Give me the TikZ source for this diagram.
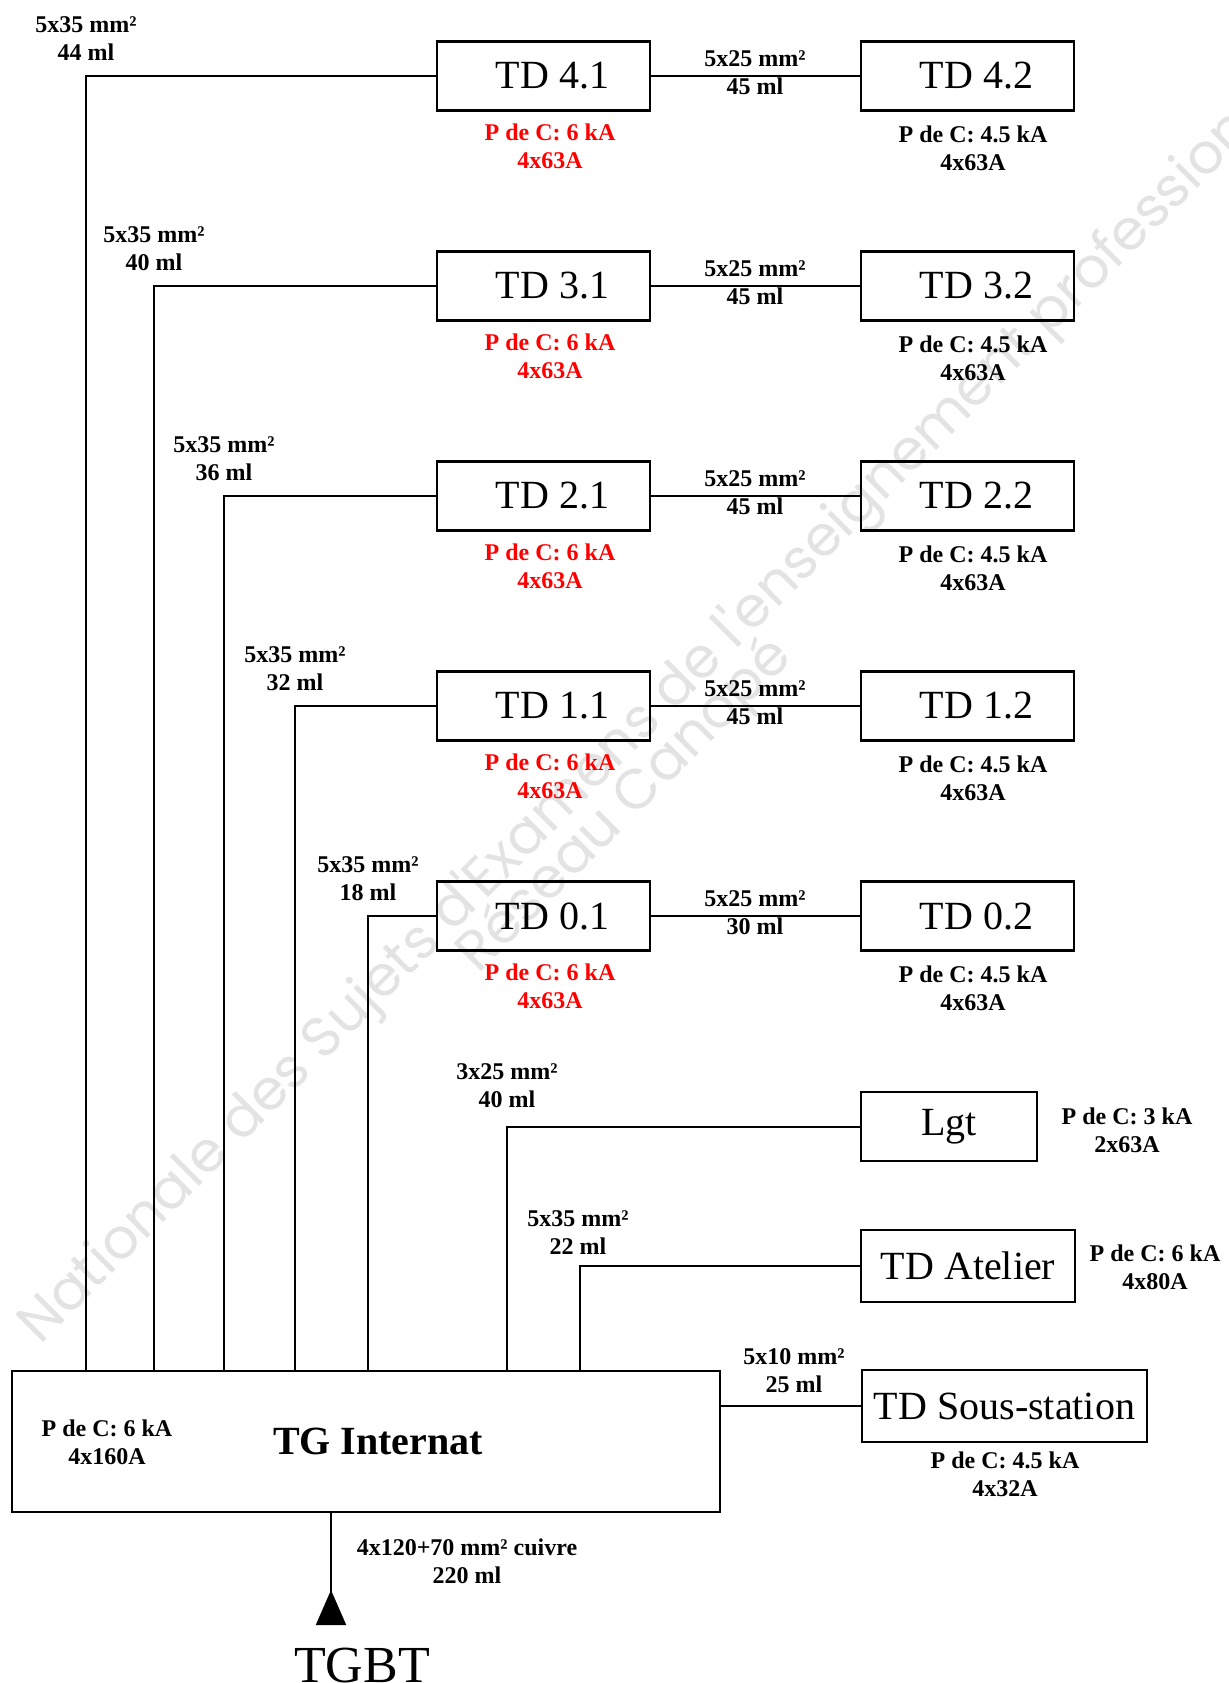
\documentclass[tikz,border=0pt]{standalone}
\usepackage{fontspec}
\setmainfont{Liberation Serif}
\newfontfamily\wmfont{Poppins}
\usetikzlibrary{arrows.meta}

\begin{document}
\begin{tikzpicture}[x=0.5pt,y=-0.5pt,
  wire/.style={line width=1pt},
  box/.style={draw, line width=1.2pt, minimum height=34.5pt, inner sep=0pt, font=\fontsize{20}{24}\selectfont},
  tdbox/.style={box, minimum width=106.5pt, execute at begin node={\hspace*{9pt}}},
  cable/.style={font=\bfseries\fontsize{12}{14}\selectfont, align=center, inner sep=0pt},
  pdc/.style={cable},
  wmark/.style={text=black!11, font=\wmfont\fontsize{28}{28}\selectfont, rotate=45, anchor=base west, inner sep=0pt}]
\useasboundingbox (0,0) rectangle (1229,1683);

% filigrane
\node[wmark] (wm1) at (40,1346) {Nationale des Sujets d'Examens de l'enseignement professionnel};
\node[wmark] (wm2) at (478,975) {Réseau Canopé};

% tableau general
\node[box, minimum width=354pt, minimum height=70.5pt, font=\bfseries\fontsize{20}{24}\selectfont,
      execute at begin node={\hspace*{12pt}}] (TG) at (366,1441.5) {TG Internat};
\node[pdc] (PTG) at (107,1442) {P de C: 6 kA\\4x160A};

% etages
\foreach \k/\y/\t/\l/\m in {4/76/86/44/45, 3/286/154/40/45, 2/496/224/36/45, 1/706/295/32/45, 0/916/368/18/30} {
  \node[tdbox] (TD\k1) at (543.5,\y) {TD \k.1};
  \node[tdbox] (TD\k2) at (967.5,\y) {TD \k.2};
  \node[pdc, text=red] (P\k1) at (550,\y+70) {P de C: 6 kA\\4x63A};
  \node[pdc] (P\k2) at (973,\y+72) {P de C: 4.5 kA\\4x63A};
  \node[cable] (C\k2) at (755,\y-3) {5x25 mm²\\\m\ ml};
  \node[cable] (C\k1) at (\t,\y-37) {5x35 mm²\\\l\ ml};
  \draw[wire] (TD\k1) -- (TD\k2);
  \draw[wire] (TD\k1.west) -| (\t,0 |- TG.north);
}

% eclairage
\node[box, minimum width=88pt] (Lgt) at (949,1126.5) {Lgt};
\node[pdc] (PLgt) at (1127,1130) {P de C: 3 kA\\2x63A};
\node[cable] (CLgt) at (507,1086) {3x25 mm²\\40 ml};
\draw[wire] (Lgt.west) -| (507,0 |- TG.north);

% atelier
\node[box, minimum width=107pt, minimum height=36pt] (Atel) at (968,1266) {TD Atelier};
\node[pdc] (PAtel) at (1155,1267) {P de C: 6 kA\\4x80A};
\node[cable] (CAtel) at (578,1233) {5x35 mm²\\22 ml};
\draw[wire] (Atel.west) -| (580,0 |- TG.north);

% sous-station
\node[box, minimum width=142.5pt, minimum height=36pt] (SS) at (1004.5,1406) {TD Sous-station};
\node[pdc] (PSS) at (1005,1474) {P de C: 4.5 kA\\4x32A};
\node[cable] (CSS) at (794,1371) {5x10 mm²\\25 ml};
\draw[wire] (SS.west) -- (SS.west -| TG.east);

% arrivee TGBT
\coordinate (feed) at (331,1625);
\draw[wire, -{Triangle[reversed, length=17.5pt, width=15pt]}] (TG.south -| feed) -- (feed);
\node[cable] (CTG) at (467,1561) {4x120+70 mm² cuivre\\220 ml};
\node[font=\fontsize{26}{30}\selectfont, anchor=base, inner sep=0pt] (TGBT) at (362,1682) {TGBT};
\end{tikzpicture}
\end{document}
